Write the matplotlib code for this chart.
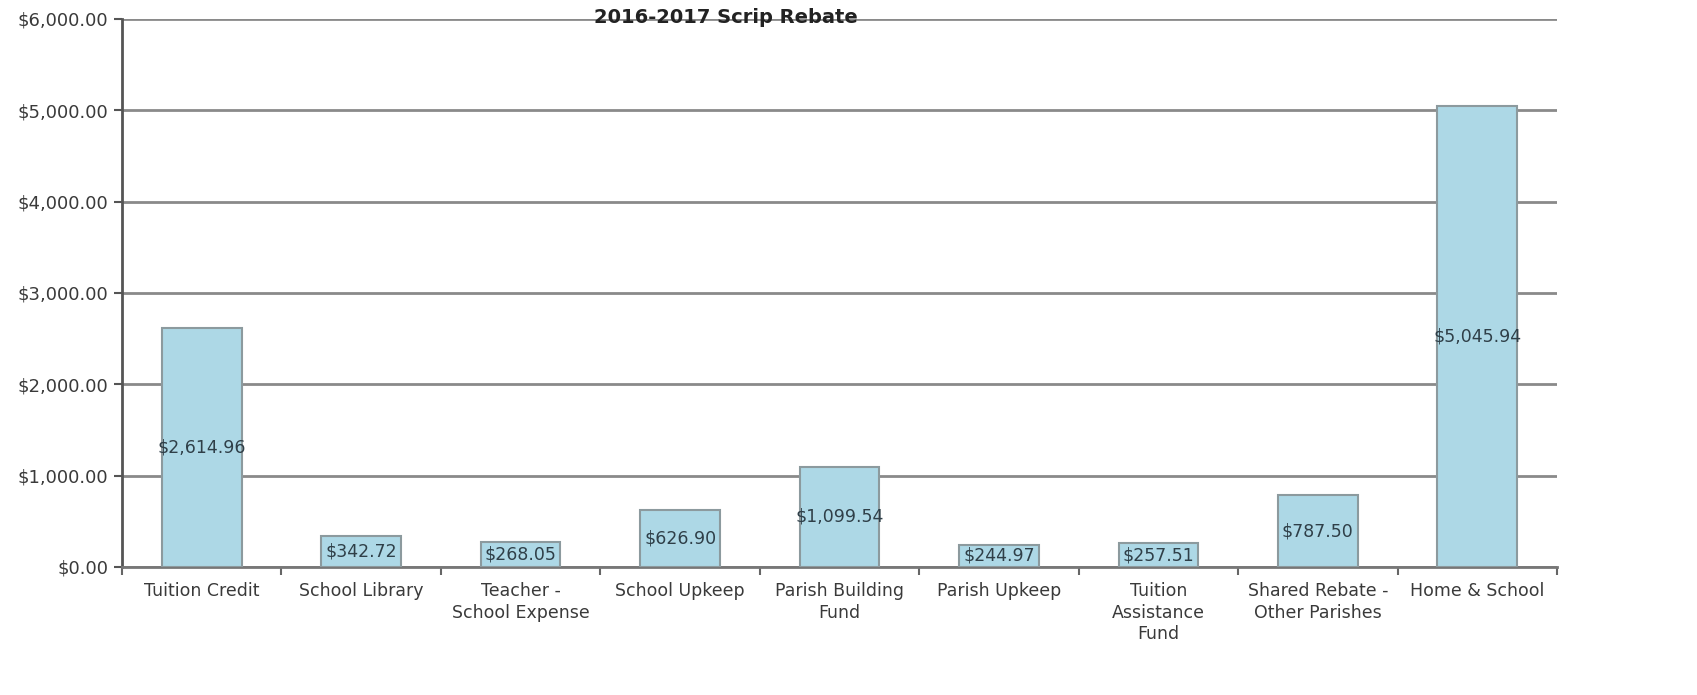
import matplotlib
matplotlib.use('Agg')
import matplotlib.pyplot as plt
from matplotlib.ticker import FuncFormatter, FixedLocator
import numpy as np

categories = ['Tuition Credit', 'School Library', 'Teacher -\nSchool Expense',
              'School Upkeep', 'Parish Building\nFund', 'Parish Upkeep',
              'Tuition\nAssistance\nFund', 'Shared Rebate -\nOther Parishes',
              'Home & School']
values = [2614.96, 342.72, 268.05, 626.90, 1099.54, 244.97, 257.51, 787.50, 5045.94]

BAR_COLOR = '#add8e6'
EDGE_COLOR = '#8c9a9e'
GRID_COLOR = '#8a8a8a'
TEXT_COLOR = '#3a3a3a'

fig = plt.figure(figsize=(16.97, 6.95), dpi=100)
ax = fig.add_axes([0.0719, 0.1842, 0.8456, 0.7885])

x = np.arange(len(categories))
ax.bar(x, values, width=0.5, color=BAR_COLOR, edgecolor=EDGE_COLOR,
       linewidth=1.5, zorder=3)

for xi, v in zip(x, values):
    ax.text(xi, v / 2, f'${v:,.2f}', ha='center', va='center',
            fontsize=12.5, color='#2f3f48', zorder=4)

ax.set_xlim(-0.5, len(categories) - 0.5)
ax.set_ylim(0, 6000)
ax.set_yticks(np.arange(0, 6001, 1000))
ax.yaxis.set_major_formatter(FuncFormatter(lambda v, p: f'${v:,.2f}'))
ax.grid(axis='y', color=GRID_COLOR, linewidth=2, zorder=0)

# category labels centred, ticks at boundaries
ax.set_xticks(x)
ax.set_xticklabels(categories, fontsize=12.5, color=TEXT_COLOR, linespacing=1.25)
ax.tick_params(axis='x', which='major', length=0, pad=11)
ax.xaxis.set_minor_locator(FixedLocator(np.arange(len(categories) + 1) - 0.5))
ax.tick_params(axis='x', which='minor', length=6, width=1.5, color='#666666', direction='out')
ax.tick_params(axis='y', length=6, width=1.5, color='#555555', labelsize=13,
               labelcolor=TEXT_COLOR, pad=4)

for s in ['top', 'right']:
    ax.spines[s].set_visible(False)
ax.spines['left'].set_color('#555555')
ax.spines['left'].set_linewidth(2)
ax.spines['bottom'].set_color('#777777')
ax.spines['bottom'].set_linewidth(2)

fig.text(0.428, 0.975, '2016-2017 Scrip Rebate', ha='center', va='center',
         fontsize=14, fontweight='bold', color='#222222')

fig.savefig('out.png', dpi=100, facecolor='white')
